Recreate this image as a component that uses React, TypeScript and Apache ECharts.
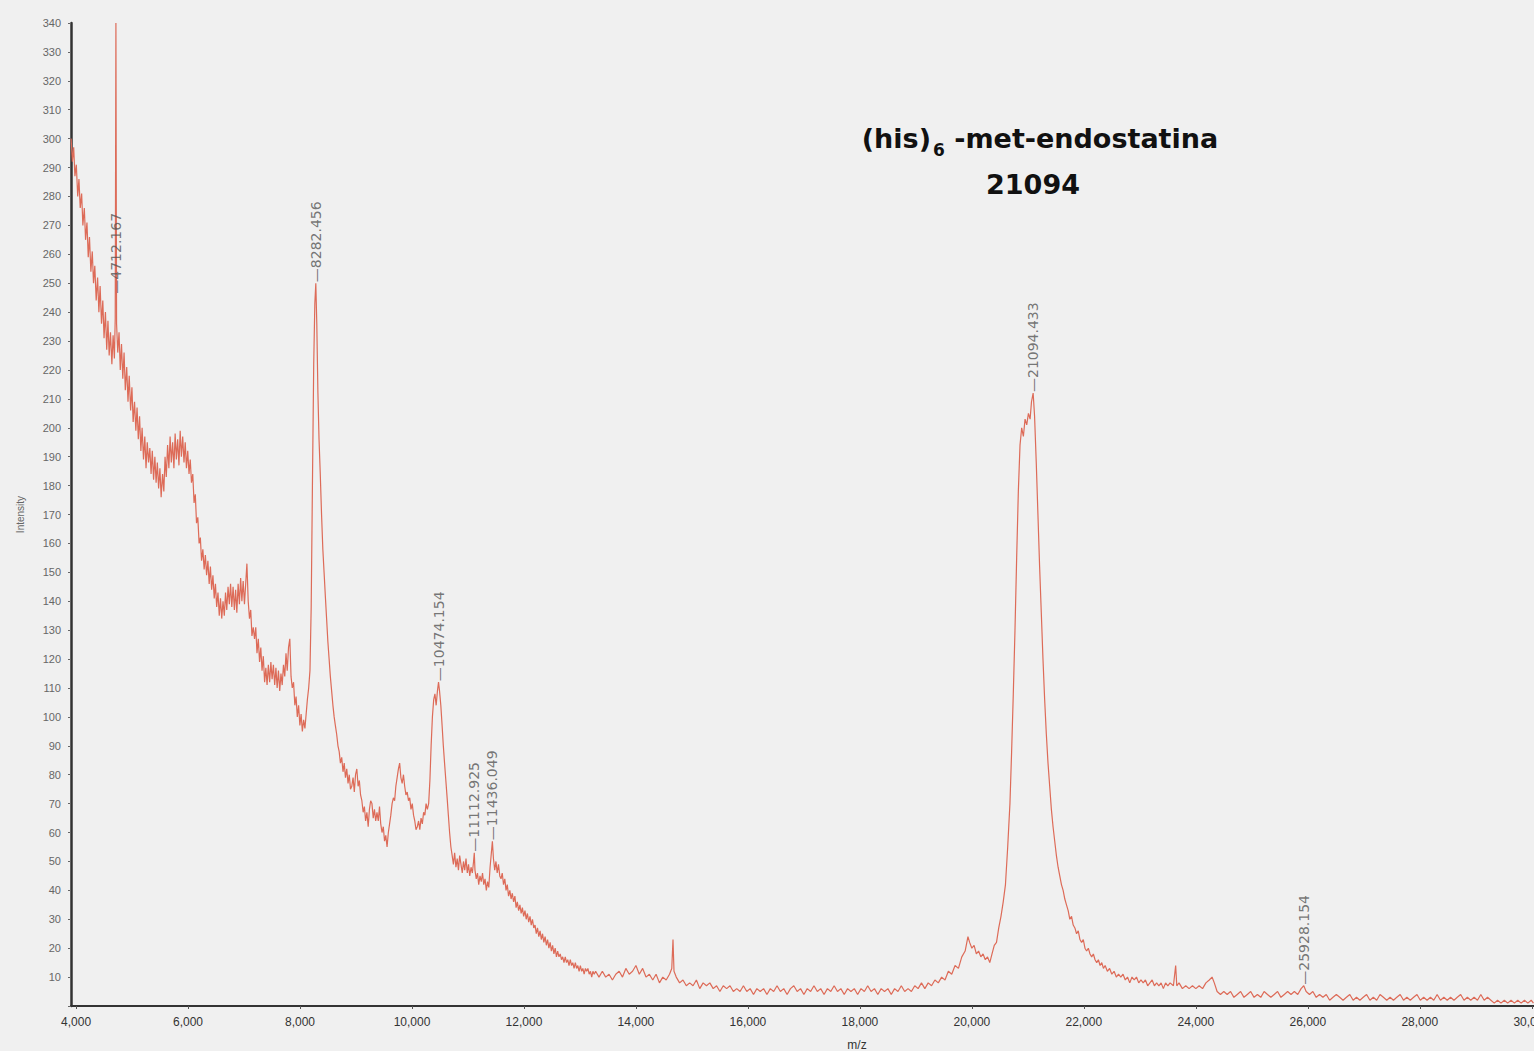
import React, { useEffect, useRef } from "react";
import * as echarts from "echarts";

// MALDI-TOF spectrum: [m/z, intensity]
const spectrum: [number, number][] = [
  [3912, 300], [3935, 292], [3958, 297], [3980, 287], [4005, 291], [4030, 280], [4052, 286], [4075, 276],
  [4100, 281], [4122, 270], [4148, 276], [4170, 265], [4195, 271], [4218, 259], [4240, 266], [4265, 254],
  [4290, 261], [4312, 250], [4335, 256], [4360, 244], [4385, 252], [4408, 240], [4430, 249], [4455, 236],
  [4478, 244], [4500, 231], [4525, 240], [4548, 227], [4570, 237], [4592, 225], [4615, 233], [4640, 222],
  [4662, 232], [4685, 224], [4700, 238], [4712.167, 340], [4724, 236], [4745, 226], [4768, 233], [4790, 220],
  [4812, 229], [4835, 217], [4858, 226], [4880, 213], [4905, 221], [4928, 209], [4950, 218], [4975, 206],
  [4998, 214], [5020, 202], [5045, 209], [5068, 199], [5090, 207], [5112, 196], [5135, 204], [5158, 192],
  [5180, 200], [5205, 189], [5228, 197], [5250, 186], [5272, 195], [5295, 188], [5318, 193], [5340, 184],
  [5362, 192], [5385, 182], [5408, 190], [5430, 181], [5452, 188], [5475, 179], [5498, 186], [5520, 176],
  [5545, 184], [5568, 178], [5590, 190], [5612, 183], [5635, 194], [5658, 186], [5680, 197], [5702, 188],
  [5725, 195], [5748, 186], [5770, 198], [5792, 189], [5815, 196], [5838, 187], [5860, 199], [5882, 190],
  [5905, 197], [5928, 188], [5950, 195], [5972, 186], [5995, 192], [6018, 184], [6040, 189], [6062, 181],
  [6085, 184], [6108, 174], [6130, 177], [6152, 167], [6175, 169], [6198, 160], [6220, 162], [6242, 154],
  [6265, 158], [6288, 151], [6310, 156], [6332, 149], [6355, 154], [6378, 146], [6400, 152], [6422, 144],
  [6445, 149], [6468, 141], [6490, 146], [6512, 138], [6535, 143], [6558, 135], [6580, 141], [6602, 134],
  [6625, 140], [6648, 135], [6670, 143], [6692, 137], [6715, 145], [6738, 139], [6760, 146], [6782, 138],
  [6805, 145], [6828, 137], [6850, 144], [6872, 136], [6895, 146], [6918, 139], [6940, 148], [6962, 140],
  [6985, 147], [7008, 139], [7030, 146], [7052, 153], [7075, 140], [7098, 134], [7120, 137], [7142, 128],
  [7165, 131], [7188, 127], [7210, 131], [7232, 122], [7255, 127], [7278, 119], [7300, 124], [7322, 116],
  [7345, 121], [7368, 112], [7390, 117], [7412, 111], [7435, 118], [7458, 112], [7480, 119], [7502, 113],
  [7525, 118], [7548, 111], [7570, 117], [7592, 110], [7615, 116], [7638, 109], [7660, 115], [7682, 111],
  [7705, 118], [7728, 114], [7750, 122], [7772, 116], [7795, 124], [7818, 127], [7840, 114], [7862, 110],
  [7885, 112], [7908, 104], [7930, 107], [7952, 100], [7975, 104], [7998, 97], [8020, 101], [8042, 95],
  [8065, 99], [8088, 96], [8110, 101], [8132, 106], [8155, 110], [8178, 116], [8200, 138], [8222, 180],
  [8245, 222], [8265, 243], [8282.456, 250], [8300, 236], [8320, 212], [8340, 196], [8362, 184], [8385, 170],
  [8408, 158], [8430, 150], [8452, 142], [8475, 134], [8498, 126], [8520, 120], [8542, 114], [8565, 109],
  [8588, 104], [8610, 100], [8632, 97], [8655, 94], [8678, 90], [8700, 88], [8722, 84], [8745, 86],
  [8768, 81], [8790, 84], [8812, 79], [8835, 82], [8858, 77], [8880, 80], [8902, 75], [8925, 76],
  [8948, 79], [8970, 74], [8992, 80], [9015, 82], [9038, 76], [9060, 78], [9082, 73], [9105, 71],
  [9128, 67], [9150, 69], [9172, 64], [9195, 67], [9218, 62], [9240, 68], [9262, 71], [9285, 70],
  [9308, 65], [9330, 68], [9352, 64], [9375, 67], [9398, 64], [9420, 69], [9442, 63], [9465, 60],
  [9488, 62], [9510, 57], [9532, 59], [9555, 55], [9578, 60], [9600, 63], [9622, 66], [9645, 70],
  [9668, 72], [9690, 71], [9712, 76], [9735, 79], [9758, 82], [9780, 84], [9802, 79], [9825, 77],
  [9848, 80], [9870, 76], [9892, 73], [9915, 74], [9938, 71], [9960, 72], [9982, 68], [10005, 70],
  [10028, 66], [10050, 64], [10072, 61], [10095, 62], [10118, 64], [10140, 61], [10162, 65], [10185, 63],
  [10208, 67], [10230, 66], [10252, 70], [10275, 68], [10298, 70], [10320, 78], [10342, 90], [10365, 100],
  [10388, 106], [10410, 108], [10432, 104], [10455, 109], [10474.154, 112], [10492, 109], [10515, 104], [10538, 97],
  [10560, 90], [10582, 84], [10605, 78], [10628, 72], [10650, 66], [10672, 60], [10695, 55], [10718, 52],
  [10740, 49], [10762, 53], [10785, 48], [10808, 51], [10830, 47], [10852, 52], [10875, 49], [10898, 46],
  [10920, 50], [10942, 47], [10965, 51], [10988, 46], [11010, 49], [11032, 45], [11055, 48], [11078, 46],
  [11100, 50], [11112.925, 53], [11125, 47], [11148, 44], [11170, 46], [11192, 42], [11215, 45], [11238, 43],
  [11260, 46], [11282, 42], [11305, 44], [11328, 40], [11350, 43], [11372, 41], [11395, 48], [11418, 53],
  [11436.049, 57], [11455, 51], [11478, 47], [11500, 50], [11522, 46], [11545, 49], [11568, 45], [11590, 44],
  [11612, 46], [11635, 42], [11658, 44], [11680, 40], [11702, 42], [11725, 38], [11748, 40], [11770, 37],
  [11792, 39], [11815, 36], [11838, 38], [11860, 34], [11882, 36], [11905, 33], [11928, 35], [11950, 32],
  [11972, 34], [11995, 31], [12018, 33], [12040, 30], [12062, 32], [12085, 29], [12108, 31], [12130, 28],
  [12152, 30], [12175, 27], [12198, 28], [12220, 25], [12242, 27], [12265, 24], [12288, 26], [12310, 23],
  [12332, 25], [12355, 22], [12378, 24], [12400, 21], [12422, 23], [12445, 20], [12468, 22], [12490, 19],
  [12512, 21], [12535, 18], [12558, 20], [12580, 17], [12602, 19], [12625, 17], [12648, 18], [12670, 16],
  [12692, 17], [12715, 15], [12738, 17], [12760, 15], [12782, 16], [12805, 14], [12828, 16], [12850, 14],
  [12872, 15], [12895, 13], [12918, 15], [12940, 13], [12962, 14], [12985, 12], [13008, 14], [13030, 12],
  [13052, 13], [13075, 11], [13098, 13], [13120, 12], [13142, 13], [13165, 11], [13188, 12], [13210, 10],
  [13232, 12], [13255, 11], [13280, 12], [13340, 10], [13400, 12], [13460, 10], [13520, 11], [13580, 9],
  [13640, 11], [13700, 12], [13760, 10], [13820, 13], [13880, 11], [13940, 12], [14000, 14], [14060, 11],
  [14120, 13], [14180, 10], [14240, 11], [14300, 9], [14360, 11], [14420, 8], [14480, 10], [14540, 9],
  [14600, 11], [14640, 13], [14662, 23], [14680, 12], [14720, 10], [14780, 8], [14840, 9], [14900, 7],
  [14960, 8], [15020, 7], [15080, 9], [15140, 6], [15200, 8], [15260, 7], [15320, 8], [15380, 6],
  [15440, 7], [15500, 5], [15560, 7], [15620, 6], [15680, 7], [15740, 5], [15800, 6], [15860, 5],
  [15920, 7], [15980, 5], [16040, 6], [16100, 4], [16160, 6], [16220, 5], [16280, 6], [16340, 4],
  [16400, 6], [16460, 5], [16520, 7], [16580, 5], [16640, 6], [16700, 4], [16760, 6], [16820, 7],
  [16880, 5], [16940, 6], [17000, 4], [17060, 6], [17120, 5], [17180, 7], [17240, 5], [17300, 6],
  [17360, 4], [17420, 6], [17480, 5], [17540, 7], [17600, 5], [17660, 6], [17720, 4], [17780, 6],
  [17840, 5], [17900, 6], [17960, 4], [18020, 6], [18080, 5], [18140, 7], [18200, 5], [18260, 6],
  [18320, 4], [18380, 6], [18440, 5], [18500, 6], [18560, 4], [18620, 6], [18680, 5], [18740, 7],
  [18800, 5], [18860, 6], [18920, 5], [18980, 7], [19040, 6], [19100, 8], [19160, 6], [19220, 8],
  [19280, 7], [19340, 9], [19400, 8], [19460, 10], [19520, 9], [19580, 12], [19640, 11], [19700, 14],
  [19760, 13], [19820, 17], [19880, 19], [19930, 24], [19960, 22], [20000, 20], [20040, 21], [20080, 18],
  [20120, 19], [20160, 17], [20200, 18], [20240, 16], [20280, 17], [20320, 15], [20360, 18], [20400, 21],
  [20440, 22], [20480, 27], [20520, 31], [20560, 36], [20600, 42], [20640, 55], [20680, 70], [20710, 88],
  [20740, 108], [20770, 130], [20800, 155], [20830, 178], [20860, 194], [20890, 200], [20920, 197], [20950, 203],
  [20980, 201], [21010, 205], [21040, 203], [21065, 209], [21094.433, 212], [21120, 204], [21150, 188], [21180, 170],
  [21210, 152], [21240, 136], [21270, 120], [21300, 106], [21330, 94], [21360, 84], [21390, 76], [21420, 68],
  [21450, 62], [21480, 57], [21510, 52], [21540, 48], [21570, 45], [21600, 42], [21630, 40], [21660, 37],
  [21690, 35], [21720, 33], [21750, 30], [21780, 31], [21810, 28], [21840, 27], [21870, 25], [21900, 26],
  [21930, 23], [21960, 22], [21990, 23], [22020, 20], [22050, 19], [22080, 20], [22110, 18], [22140, 17],
  [22170, 18], [22200, 16], [22230, 15], [22260, 16], [22290, 14], [22320, 15], [22350, 13], [22380, 14],
  [22420, 12], [22460, 13], [22500, 11], [22540, 12], [22580, 10], [22620, 11], [22660, 10], [22700, 11],
  [22740, 9], [22780, 10], [22820, 8], [22860, 10], [22900, 9], [22940, 10], [22980, 8], [23020, 9],
  [23060, 8], [23100, 9], [23140, 7], [23180, 8], [23220, 9], [23260, 7], [23300, 8], [23340, 7],
  [23380, 8], [23420, 6], [23460, 8], [23500, 7], [23540, 8], [23600, 7], [23640, 14], [23660, 7],
  [23700, 8], [23760, 6], [23820, 7], [23880, 6], [23940, 7], [24000, 6], [24060, 7], [24120, 6],
  [24180, 8], [24240, 9], [24290, 10], [24330, 8], [24380, 5], [24440, 4], [24500, 5], [24560, 4],
  [24620, 5], [24680, 3], [24740, 4], [24800, 5], [24860, 3], [24920, 4], [24980, 5], [25040, 3],
  [25100, 4], [25160, 3], [25220, 5], [25280, 4], [25340, 3], [25400, 4], [25460, 5], [25520, 3],
  [25580, 4], [25640, 5], [25700, 4], [25760, 5], [25820, 4], [25880, 6], [25928.154, 7], [25970, 5],
  [26030, 4], [26090, 5], [26150, 3], [26210, 4], [26270, 3], [26330, 4], [26390, 2], [26450, 3],
  [26510, 4], [26570, 3], [26630, 2], [26690, 3], [26750, 4], [26810, 2], [26870, 3], [26930, 2],
  [26990, 3], [27050, 4], [27110, 2], [27170, 3], [27230, 2], [27290, 4], [27350, 3], [27410, 2],
  [27470, 3], [27530, 2], [27590, 3], [27650, 4], [27710, 2], [27770, 3], [27830, 2], [27890, 3],
  [27950, 4], [28010, 2], [28070, 3], [28130, 2], [28190, 3], [28250, 2], [28310, 4], [28370, 2],
  [28430, 3], [28490, 2], [28550, 3], [28610, 2], [28670, 3], [28730, 4], [28790, 2], [28850, 3],
  [28910, 2], [28970, 3], [29030, 2], [29090, 4], [29150, 2], [29210, 3], [29270, 2], [29330, 1],
  [29390, 2], [29450, 1], [29510, 2], [29570, 1], [29630, 2], [29690, 1], [29750, 2], [29810, 1],
  [29870, 2], [29930, 1], [29990, 2], [30030, 1],
];

// Annotated peaks: m/z and the intensity where each label's leader starts
const peakMz = [4712.167, 8282.456, 10474.154, 11112.925, 11436.049, 21094.433, 25928.154];
const peakLabelIntensity = [246, 250, 112, 53, 57, 212, 7];

const xTickValues = [4000, 6000, 8000, 10000, 12000, 14000, 16000, 18000, 20000, 22000, 24000, 26000, 28000, 30000];

const proteinName = "(his)";
const proteinSub = "6";
const proteinRest = " -met-endostatina";
const proteinMass = "21094";

export default function App() {
  const ref = useRef<HTMLDivElement>(null);

  useEffect(() => {
    if (!ref.current) return;
    const chart = echarts.init(ref.current, null, { renderer: "svg" });
    chart.setOption({
      animation: false,
      backgroundColor: "#f0f0f0",
      grid: { left: 71, right: 0, top: 23, bottom: 45, containLabel: false, outerBoundsMode: "none" },
      xAxis: {
        type: "value",
        min: 3910,
        max: 30040,
        axisLine: { show: true, lineStyle: { color: "#333", width: 2 } },
        axisTick: { show: true, customValues: xTickValues, length: 3, lineStyle: { color: "#555" } },
        axisLabel: {
          customValues: xTickValues,
          color: "#333",
          fontSize: 12,
          fontFamily: "Liberation Sans, Arial, sans-serif",
          margin: 10,
          formatter: (v: number) => v.toLocaleString("en-US"),
        },
        splitLine: { show: false },
      },
      yAxis: {
        type: "value",
        min: 0,
        max: 340,
        interval: 10,
        name: "Intensity",
        nameLocation: "middle",
        nameRotate: 90,
        nameGap: 46,
        nameTextStyle: { color: "#666", fontSize: 10, fontFamily: "Liberation Sans, Arial, sans-serif" },
        axisLine: { show: true, lineStyle: { color: "#333", width: 2.5 } },
        axisTick: { show: true, length: 3, lineStyle: { color: "#666" } },
        axisLabel: {
          color: "#666",
          fontSize: 11,
          fontFamily: "Liberation Sans, Arial, sans-serif",
          margin: 10,
          formatter: (v: number) => (v === 0 ? "" : String(v)),
        },
        splitLine: { show: false },
      },
      series: [
        {
          type: "line",
          data: spectrum,
          showSymbol: false,
          symbol: "none",
          lineStyle: { color: "#dd6b58", width: 1.2 },
          z: 2,
        },
        {
          type: "scatter",
          data: peakMz.map((m, i) => [m, peakLabelIntensity[i]]),
          symbol: "circle",
          symbolSize: 0.1,
          itemStyle: { color: "rgba(0,0,0,0)" },
          silent: true,
          z: 3,
          label: {
            show: true,
            position: "top",
            distance: 1,
            rotate: 90,
            align: "left",
            verticalAlign: "middle",
            color: "#555",
            fontSize: 14,
            fontFamily: "DejaVu Sans, sans-serif",
            formatter: (p: any) => "\u2014" + peakMz[p.dataIndex].toFixed(3),
          },
        },
      ],
      graphic: [
        {
          type: "text",
          x: 1040,
          y: 138,
          style: {
            text: `{t|${proteinName}}{s|${proteinSub}}{t|${proteinRest}}`,
            align: "center",
            verticalAlign: "middle",
            rich: {
              t: { fontSize: 27, fontWeight: "bold", fontFamily: "DejaVu Sans", fill: "#111", lineHeight: 34 },
              s: { fontSize: 17, fontWeight: "bold", fontFamily: "DejaVu Sans", fill: "#111", lineHeight: 34, padding: [24, 0, 0, 2] },
            },
          },
        },
        {
          type: "text",
          x: 1033,
          y: 184,
          style: {
            text: proteinMass,
            align: "center",
            verticalAlign: "middle",
            fontSize: 27,
            fontWeight: "bold",
            fontFamily: "DejaVu Sans",
            fill: "#111",
          },
        },
        {
          type: "text",
          x: 857,
          y: 1045,
          style: {
            text: "m/z",
            align: "center",
            verticalAlign: "middle",
            fontSize: 12,
            fontFamily: "Liberation Sans, Arial, sans-serif",
            fill: "#333",
          },
        },
      ],
    });
    return () => chart.dispose();
  }, []);

  return (
    <div
      ref={ref}
      style={{ position: "fixed", left: 0, top: 0, width: 1534, height: 1051, background: "#f0f0f0" }}
    />
  );
}
